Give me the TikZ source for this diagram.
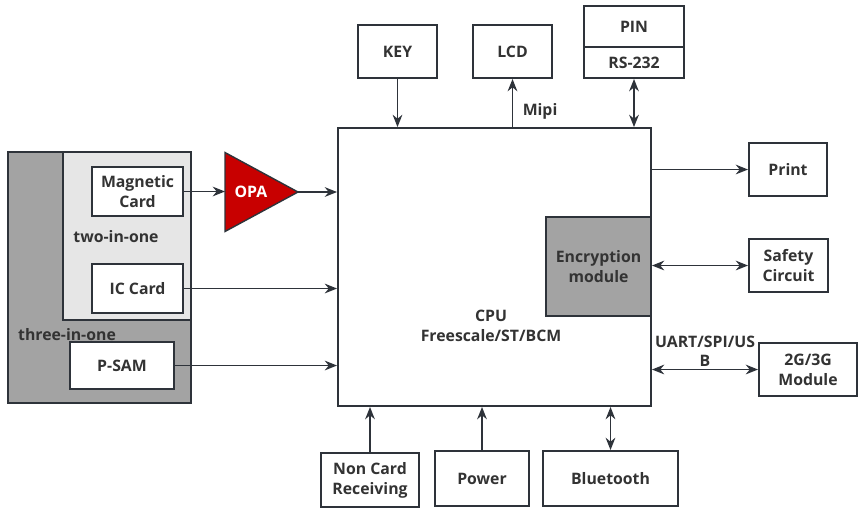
\documentclass[tikz,border=0pt]{standalone}
\usepackage{fontspec}
\setmainfont{Open Sans}
\usetikzlibrary{arrows.meta, positioning, calc, shapes.geometric}
\definecolor{linedark}{HTML}{2E333A}
\definecolor{textdark}{HTML}{333333}
\definecolor{shadegray}{HTML}{A3A3A3}
\definecolor{palegray}{HTML}{E6E6E6}
\definecolor{opared}{HTML}{C80000}
\tikzset{
  blk/.style={rectangle, draw=linedark, fill=#1, line width=1.1pt, inner sep=1pt,
              align=center, text=textdark, font=\bfseries\fontsize{9}{11.3}\selectfont},
  blk/.default=white,
  grp/.style={rectangle, draw=linedark, fill=#1, line width=1.1pt},
  grp/.default=palegray,
  lbl/.style={text=textdark, align=center, font=\bfseries\fontsize{9}{11.3}\selectfont},
  arr/.style={-{Stealth[length=7pt, width=5.5pt]}, line width=1pt, draw=#1},
  arr/.default=linedark,
  darr/.style={{Stealth[length=7pt, width=5.5pt]}-{Stealth[length=7pt, width=5.5pt]},
               line width=1pt, draw=#1},
  darr/.default=linedark,
}

\begin{document}
\begin{tikzpicture}[x=0.02cm, y=-0.02cm]
  \useasboundingbox (0,0) rectangle (864,512);

  % card readers
  \node[grp=shadegray, minimum width=3.66cm, minimum height=5.02cm] (three) at (99.5,277.5) {};
  \node[grp=palegray, minimum width=2.56cm, minimum height=3.36cm] (two) at (127,236) {};
  \node[blk, minimum width=1.82cm, minimum height=0.98cm] (mag) at (137.5,191.5) {Magnetic\\Card};
  \node[lbl] (twolbl) at (116,237) {two-in-one};
  \node[blk, minimum width=1.82cm, minimum height=0.98cm] (ic) at (137.5,288.5) {IC Card};
  \node[lbl] (threelbl) at (67,335) {three-in-one};
  \node[blk, minimum width=2.08cm, minimum height=0.94cm] (psam) at (122,365.5) {P-SAM};
  \node[isosceles triangle, isosceles triangle stretches, shape border rotate=0,
        fill=opared, draw=linedark, line width=0.8pt, inner sep=0pt, outer sep=0pt,
        minimum width=1.58cm, minimum height=1.46cm, anchor=lower side,
        text=white, font=\bfseries\fontsize{9}{11.3}\selectfont] (opa) at (225,192) {OPA};

  % main processor
  \node[blk, minimum width=6.26cm, minimum height=5.56cm] (cpu) at (494.5,267) {};
  \node[lbl] (cputxt) at (491,325.5) {CPU\\Freescale/ST/BCM};
  \node[blk=shadegray, minimum width=2.1cm, minimum height=1.98cm, anchor=east] (enc)
    at (cpu.east |- 0,266.5) {Encryption\\module};

  \node[blk, minimum width=1.58cm, minimum height=1.06cm] (key) at (397.5,51.5) {KEY};
  \node[blk, minimum width=1.58cm, minimum height=1.06cm] (lcd) at (512.5,51.5) {LCD};
  \node[blk, minimum width=2cm, minimum height=0.82cm] (pin) at (634,26.5) {PIN};
  \node[blk, minimum width=2cm, minimum height=0.62cm, below=-1.1pt of pin] (rs) {RS-232};

  \node[blk, minimum width=1.56cm, minimum height=1.06cm] (print) at (788,169.5) {Print};
  \node[blk, minimum width=1.58cm, minimum height=1.06cm] (safety) at (788.5,265.5) {Safety\\Circuit};
  \node[blk, minimum width=1.96cm, minimum height=1.06cm] (gmod) at (808,369.5) {2G/3G\\Module};

  \node[blk, minimum width=1.96cm, minimum height=1.08cm] (noncard) at (370,480) {Non Card\\Receiving};
  \node[blk, minimum width=1.88cm, minimum height=1.1cm] (power) at (482,478.5) {Power};
  \node[blk, minimum width=2.7cm, minimum height=1.1cm] (bt) at (610.5,478.5) {Bluetooth};

  % links
  \draw[arr] (mag.east) -- (mag.east -| opa.lower side);
  \draw[arr] (opa.apex) -- (opa.apex -| cpu.west);
  \draw[arr] (ic) -- (ic -| cpu.west);
  \draw[arr] (psam) -- (psam -| cpu.west);
  \draw[arr] (key) -- (key |- cpu.north);
  \draw[arr] (lcd |- cpu.north) -- node[lbl, right, pos=0.32, xshift=2pt] {Mipi} (lcd);
  \draw[darr] (rs) -- (rs |- cpu.north);
  \draw[arr] (cpu.east |- print) -- (print);
  \draw[darr] (enc.east |- safety) -- (safety);
  \draw[darr] (cpu.east |- gmod) -- node[lbl, above, inner sep=1pt] {UART/SPI/US\\B} (gmod);
  \draw[arr] (noncard) -- (noncard |- cpu.south);
  \draw[arr] (power) -- (power |- cpu.south);
  \draw[darr] (bt) -- (bt |- cpu.south);
\end{tikzpicture}
\end{document}
